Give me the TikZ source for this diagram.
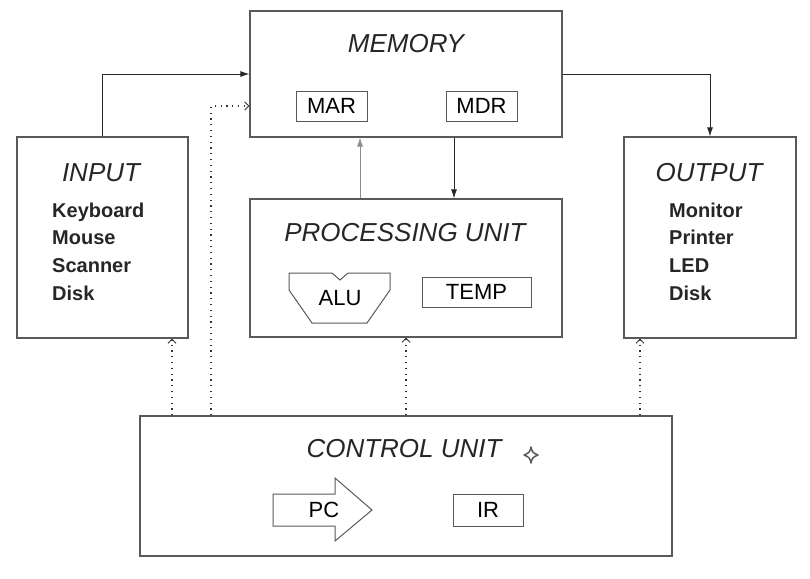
\documentclass[tikz,border=0pt]{standalone}
\usepackage{fontspec}
\setmainfont{Liberation Sans}
\usetikzlibrary{arrows.meta, positioning}

\begin{document}
\begin{tikzpicture}[
    x=1pt, y=-1pt,
    >=Latex,
    unit/.style={draw=black!65, line width=1.1pt, inner sep=0pt},
    reg/.style={draw=black!65, line width=1pt, inner sep=0pt,
                minimum height=30pt, font=\fontsize{22}{26}\selectfont},
    title/.style={inner sep=0pt, font=\fontsize{26}{30}\selectfont\itshape,
                  text=black!85},
    item/.style={inner sep=0pt, anchor=base west,
                 font=\fontsize{20}{24}\selectfont\bfseries, text=black!85},
    bus/.style={line width=1pt, black!85, -{Latex[length=9pt,width=6pt]}},
    ctl/.style={line width=1.2pt, black!80, dash pattern=on 1.2pt off 4.6pt,
                -{Straight Barb[length=4pt,width=8pt,line width=1pt]}}
  ]
  \useasboundingbox (0,0) rectangle (810,578);

  % The five units
  \node[unit, minimum width=312pt, minimum height=126pt] (mem) at (406,74) {};
  \node[unit, minimum width=171pt, minimum height=201pt] (input) at (102.5,237.5) {};
  \node[unit, minimum width=172pt, minimum height=201pt] (output) at (710,237.5) {};
  \node[unit, minimum width=312pt, minimum height=138pt] (proc) at (406,268) {};
  \node[unit, minimum width=532pt, minimum height=140pt] (ctrl) at (406,486) {};

  \node[title] (memT) at (406,44) {MEMORY};
  \node[title] (inputT) at (101,173) {INPUT};
  \node[title] (outputT) at (709,173) {OUTPUT};
  \node[title] (procT) at (405,233) {PROCESSING UNIT};
  \node[title] (ctrlT) at (404,449) {CONTROL UNIT};

  % Devices
  \foreach \i/\t in {0/Keyboard, 1/Mouse, 2/Scanner, 3/Disk} {
    \node[item] (in\i) at (52, 217+\i*27.7) {\t};
  }
  \foreach \i/\t in {0/Monitor, 1/Printer, 2/LED, 3/Disk} {
    \node[item] (out\i) at (669, 217+\i*27.7) {\t};
  }

  % Registers
  \node[reg, minimum width=71pt] (mar) at (331.5,106) {MAR};
  \node[reg, minimum width=71pt] (mdr) at (481.5,106) {MDR};
  \node[reg, minimum width=109pt] (temp) at (476.5,292) {TEMP};
  \node[reg, minimum width=70pt, minimum height=32pt] (ir) at (488,510) {IR};

  \draw[draw=black!65, line width=1pt]
    (289,273) -- (332,273) -- (340,280) -- (348,273) -- (390,273)
    -- (390,290) -- (367,323) -- (312,323) -- (289,290) -- cycle;
  \node[inner sep=0pt, font=\fontsize{22}{26}\selectfont] (alu) at (340,298) {ALU};

  \draw[draw=black!65, line width=1pt]
    (273,494) -- (335,494) -- (335,478) -- (372,510) -- (335,541)
    -- (335,526) -- (273,526) -- cycle;
  \node[inner sep=0pt, font=\fontsize{22}{26}\selectfont] (pc) at (324,510) {PC};

  \draw[black!65, line width=1.5pt, line join=round]
    (531,447) .. controls (532,452) and (533,453) .. (538,455)
    .. controls (533,457) and (532,458) .. (531,463)
    .. controls (530,458) and (529,457) .. (524,455)
    .. controls (529,453) and (530,452) .. (531,447) -- cycle;

  % Data paths
  \draw[bus] (input.north) |- (mem.west);
  \draw[bus] (mem.east) -| (output.north);
  \draw[bus] ([xshift=48pt]mem.south) -- ([xshift=48pt]proc.north);
  \draw[bus, black!45] ([xshift=-46pt]proc.north) -- ([xshift=-46pt]mem.south);

  % Control signals
  \draw[ctl] (ctrl.north -| 172,0) -- (input.south -| 172,0);
  \draw[ctl] (ctrl.north -| 211,0) |- (mem.west |- 0,106);
  \draw[ctl] (ctrl.north) -- (proc.south);
  \draw[ctl] (ctrl.north -| 640,0) -- (output.south -| 640,0);
\end{tikzpicture}
\end{document}
